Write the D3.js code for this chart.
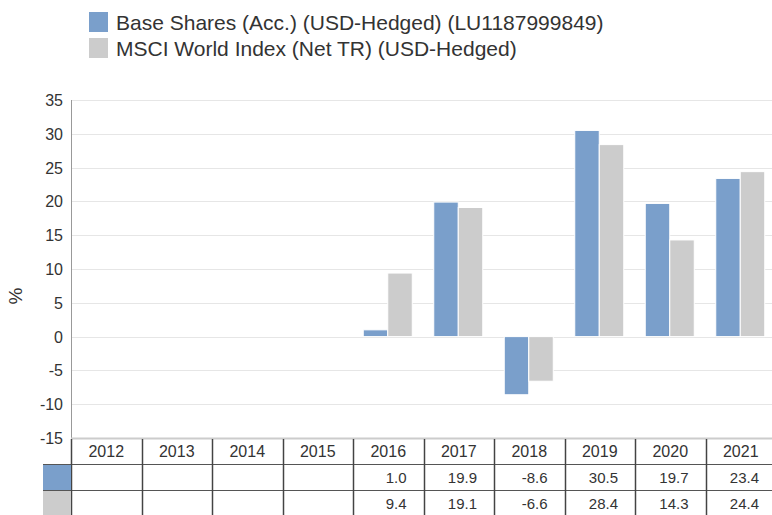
<!DOCTYPE html>
<html>
<head>
<meta charset="utf-8">
<script src="https://cdn.jsdelivr.net/npm/d3@7"></script>
<style>
  body { margin: 0; background: #fff; }
  svg { display: block; font-family: "Liberation Sans", Arial, sans-serif; }
</style>
</head>
<body>
<svg id="chart" width="772" height="515"></svg>
<script>
// data
var years = ["2012", "2013", "2014", "2015", "2016", "2017", "2018", "2019", "2020", "2021"];
var fundValues = [null, null, null, null, 1.0, 19.9, -8.6, 30.5, 19.7, 23.4];
var indexValues = [null, null, null, null, 9.4, 19.1, -6.6, 28.4, 14.3, 24.4];
var seriesNames = ["Base Shares (Acc.) (USD-Hedged) (LU1187999849)", "MSCI World Index (Net TR) (USD-Hedged)"];
var seriesColors = ["#7a9fcb", "#cccccc"];
var yTicks = [-15, -10, -5, 0, 5, 10, 15, 20, 25, 30, 35];

var svg = d3.select("#chart"),
    plotLeft = 71,
    plotRight = 776,
    plotTop = 100,
    plotBottom = 438,
    rowH = 26;

var x = d3.scaleBand().domain(years).range([plotLeft, plotRight]);
var y = d3.scaleLinear().domain([-15, 35]).range([plotBottom, plotTop]);
var inner = d3.scaleBand().domain([0, 1]).range([x.bandwidth() / 2 - 25, x.bandwidth() / 2 + 24]);

// legend
var legend = svg.append("g");
seriesNames.forEach(function (name, i) {
    legend.append("rect")
        .attr("x", 89).attr("y", 12 + i * 26)
        .attr("width", 19).attr("height", 20)
        .attr("fill", seriesColors[i]);
    legend.append("text")
        .attr("x", 116).attr("y", 30 + i * 26)
        .attr("font-size", 21).attr("fill", "#333")
        .text(name);
});

// gridlines
svg.append("g")
    .selectAll("line")
    .data(yTicks)
    .enter()
    .append("line")
    .attr("x1", plotLeft).attr("x2", plotRight)
    .attr("y1", function (d) { return Math.round(y(d)) + 0.5; })
    .attr("y2", function (d) { return Math.round(y(d)) + 0.5; })
    .attr("stroke", "#e6e6e6");

// y axis labels
svg.append("g")
    .selectAll("text")
    .data(yTicks)
    .enter()
    .append("text")
    .attr("x", 63)
    .attr("y", function (d) { return y(d) + 6; })
    .attr("text-anchor", "end")
    .attr("font-size", 16).attr("fill", "#333")
    .text(function (d) { return d; });

svg.append("text")
    .attr("transform", "translate(22,296) rotate(-90)")
    .attr("text-anchor", "middle")
    .attr("font-size", 19).attr("fill", "#333")
    .text("%");

// bars
[fundValues, indexValues].forEach(function (vals, s) {
    svg.append("g")
        .selectAll("rect")
        .data(years.map(function (yr, i) { return { year: yr, v: vals[i] }; }).filter(function (d) { return d.v != null; }))
        .enter()
        .append("rect")
        .attr("x", function (d) { return x(d.year) + inner(s); })
        .attr("width", inner.bandwidth())
        .attr("y", function (d) { return y(Math.max(0, d.v)); })
        .attr("height", function (d) { return Math.abs(y(d.v) - y(0)); })
        .attr("fill", seriesColors[s])
        .attr("stroke", "#fff")
        .attr("stroke-width", 1);
});

// y axis line
svg.append("line")
    .attr("x1", plotLeft + 0.5).attr("x2", plotLeft + 0.5)
    .attr("y1", plotTop).attr("y2", plotBottom)
    .attr("stroke", "#999");

// data table
var table = svg.append("g");
table.append("line")
    .attr("x1", plotLeft).attr("x2", plotRight)
    .attr("y1", plotBottom + 0.5).attr("y2", plotBottom + 0.5)
    .attr("stroke", "#ccc").attr("stroke-width", 2);

[1, 2].forEach(function (r) {
    table.append("line")
        .attr("x1", 43).attr("x2", plotRight)
        .attr("y1", plotBottom + r * rowH + 0.5).attr("y2", plotBottom + r * rowH + 0.5)
        .attr("stroke", "#555");
});

years.forEach(function (yr) {
    table.append("line")
        .attr("x1", Math.round(x(yr)) + 0.5).attr("x2", Math.round(x(yr)) + 0.5)
        .attr("y1", plotBottom + 1).attr("y2", 515)
        .attr("stroke", "#444").attr("stroke-width", 1.5);
    table.append("text")
        .attr("x", x(yr) + x.bandwidth() / 2)
        .attr("y", plotBottom + 19)
        .attr("text-anchor", "middle")
        .attr("font-size", 16).attr("fill", "#333")
        .text(yr);
});

[fundValues, indexValues].forEach(function (vals, s) {
    table.append("rect")
        .attr("x", 43).attr("y", plotBottom + (s + 1) * rowH + 1)
        .attr("width", 28).attr("height", rowH - 1)
        .attr("fill", seriesColors[s]);
    years.forEach(function (yr, i) {
        if (vals[i] == null) return;
        table.append("text")
            .attr("x", x(yr) + x.bandwidth() - 17)
            .attr("y", plotBottom + (s + 1) * rowH + 19)
            .attr("text-anchor", "end")
            .attr("font-size", 15).attr("fill", "#333")
            .text(vals[i].toFixed(1));
    });
});
</script>
</body>
</html>
